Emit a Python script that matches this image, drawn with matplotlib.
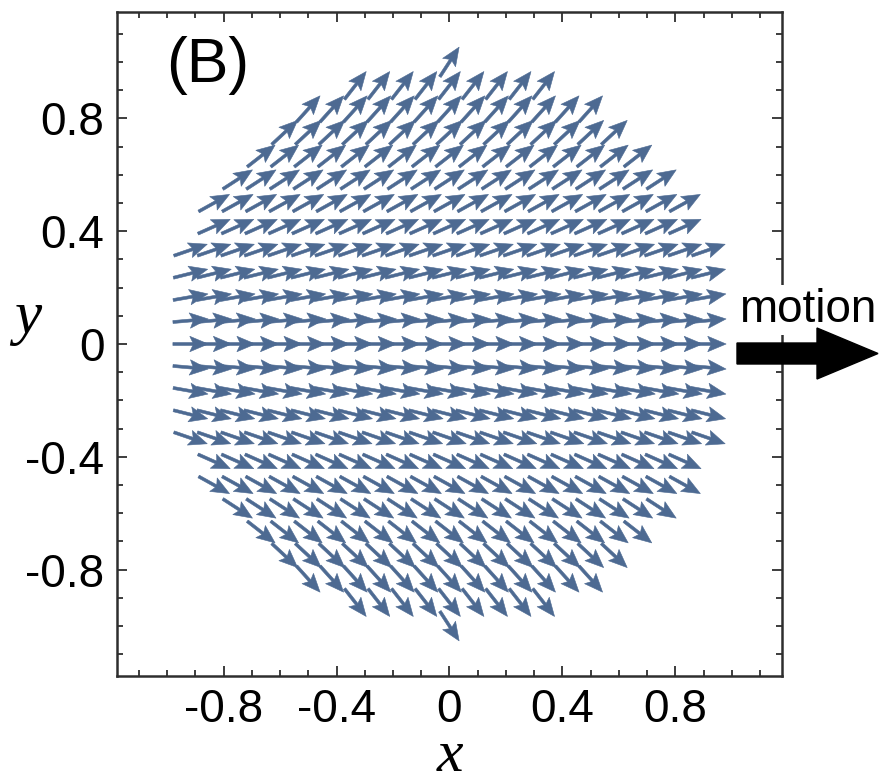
import numpy as np
import matplotlib
matplotlib.use("Agg")
import matplotlib.pyplot as plt
from matplotlib.patches import FancyArrow
from matplotlib.ticker import MultipleLocator

# grid spacing of the arrow lattice (data units)
step = 1 / 12
# rows from bottom (j=-12) to top (j=12)
row_index = [-12, -11, -10, -9, -8, -7, -6, -5, -4, -3, -2, -1, 0,
             1, 2, 3, 4, 5, 6, 7, 8, 9, 10, 11, 12]
# how many columns each side of x=0 are filled in that row
row_halfwidth = [0, 4, 6, 7, 8, 9, 10, 10, 11, 11, 11, 11, 11,
                 11, 11, 11, 11, 10, 10, 9, 8, 7, 6, 4, 0]
# arrow direction per row (degrees)
row_angle = [-57, -52, -48, -43, -38, -33, -29, -24, -19, -14, -10, -5, 0,
             5, 10, 14, 19, 24, 29, 33, 38, 43, 48, 52, 57]

xticks = [-0.8, -0.4, 0, 0.4, 0.8]
xticklabels = ["-0.8", "-0.4", "0", "0.4", "0.8"]
yticks = [-0.8, -0.4, 0, 0.4, 0.8]
yticklabels = ["-0.8", "-0.4", "0", "0.4", "0.8"]

arrow_color = "#4d6a92"
frame_color = "#2e2e2e"

# build arrow lists
X, Y, U, V = [], [], [], []
for j, hw, ang in zip(row_index, row_halfwidth, row_angle):
    for k in range(-hw, hw + 1):
        X.append(k * step)
        Y.append(j * step)
        U.append(np.cos(np.radians(ang)))
        V.append(np.sin(np.radians(ang)))

fig = plt.figure(figsize=(8.87, 7.83), dpi=100)
ax = fig.add_axes([117 / 887, 1 - 676 / 783, 665 / 887, 664 / 783])

arrow_len = 0.125  # data units
ax.quiver(X, Y, U, V, pivot="middle", angles="xy", scale_units="xy",
          scale=1 / arrow_len, units="xy", width=0.0105,
          headwidth=5.2, headlength=6.2, headaxislength=5.2,
          color=arrow_color, linewidth=0.4, edgecolor=arrow_color)

ax.set_xlim(-1.177, 1.177)
ax.set_ylim(-1.177, 1.177)

ax.set_xticks(xticks)
ax.set_xticklabels(xticklabels)
ax.set_yticks(yticks)
ax.set_yticklabels(yticklabels)
ax.xaxis.set_minor_locator(MultipleLocator(0.1))
ax.yaxis.set_minor_locator(MultipleLocator(0.1))

for s in ax.spines.values():
    s.set_linewidth(1.8)
    s.set_color(frame_color)

ax.tick_params(which="both", direction="in", top=True, right=True,
               color=frame_color, width=1.3)
ax.tick_params(which="major", length=7, labelsize=33, pad=9)
ax.tick_params(which="minor", length=4)
for lab in ax.get_xticklabels() + ax.get_yticklabels():
    lab.set_fontfamily("Liberation Sans")

# axis labels
fig.text(450 / 887, 1 - 771 / 783, "x", ha="center", va="baseline",
         family="Liberation Serif", style="italic", fontsize=43)
fig.text(28 / 887, 1 - 333 / 783, "y", ha="center", va="baseline",
         family="Liberation Serif", style="italic", fontsize=44)

# panel tag
fig.text(166 / 887, 1 - 82 / 783, "(B)", ha="left", va="baseline",
         family="Liberation Sans", fontsize=45)

# motion label and big arrow
fig.text(739 / 887, 1 - 322 / 783, "motion", ha="left", va="baseline",
         family="Liberation Sans", fontsize=33, zorder=5,
         bbox=dict(facecolor="white", edgecolor="none", pad=2))
big = FancyArrow(7.37, 7.83 - 3.535, 1.41, 0, width=0.21,
                 head_width=0.51, head_length=0.61,
                 length_includes_head=True, color="black",
                 transform=fig.dpi_scale_trans, zorder=6)
fig.add_artist(big)

fig.savefig("out.png", dpi=100)
